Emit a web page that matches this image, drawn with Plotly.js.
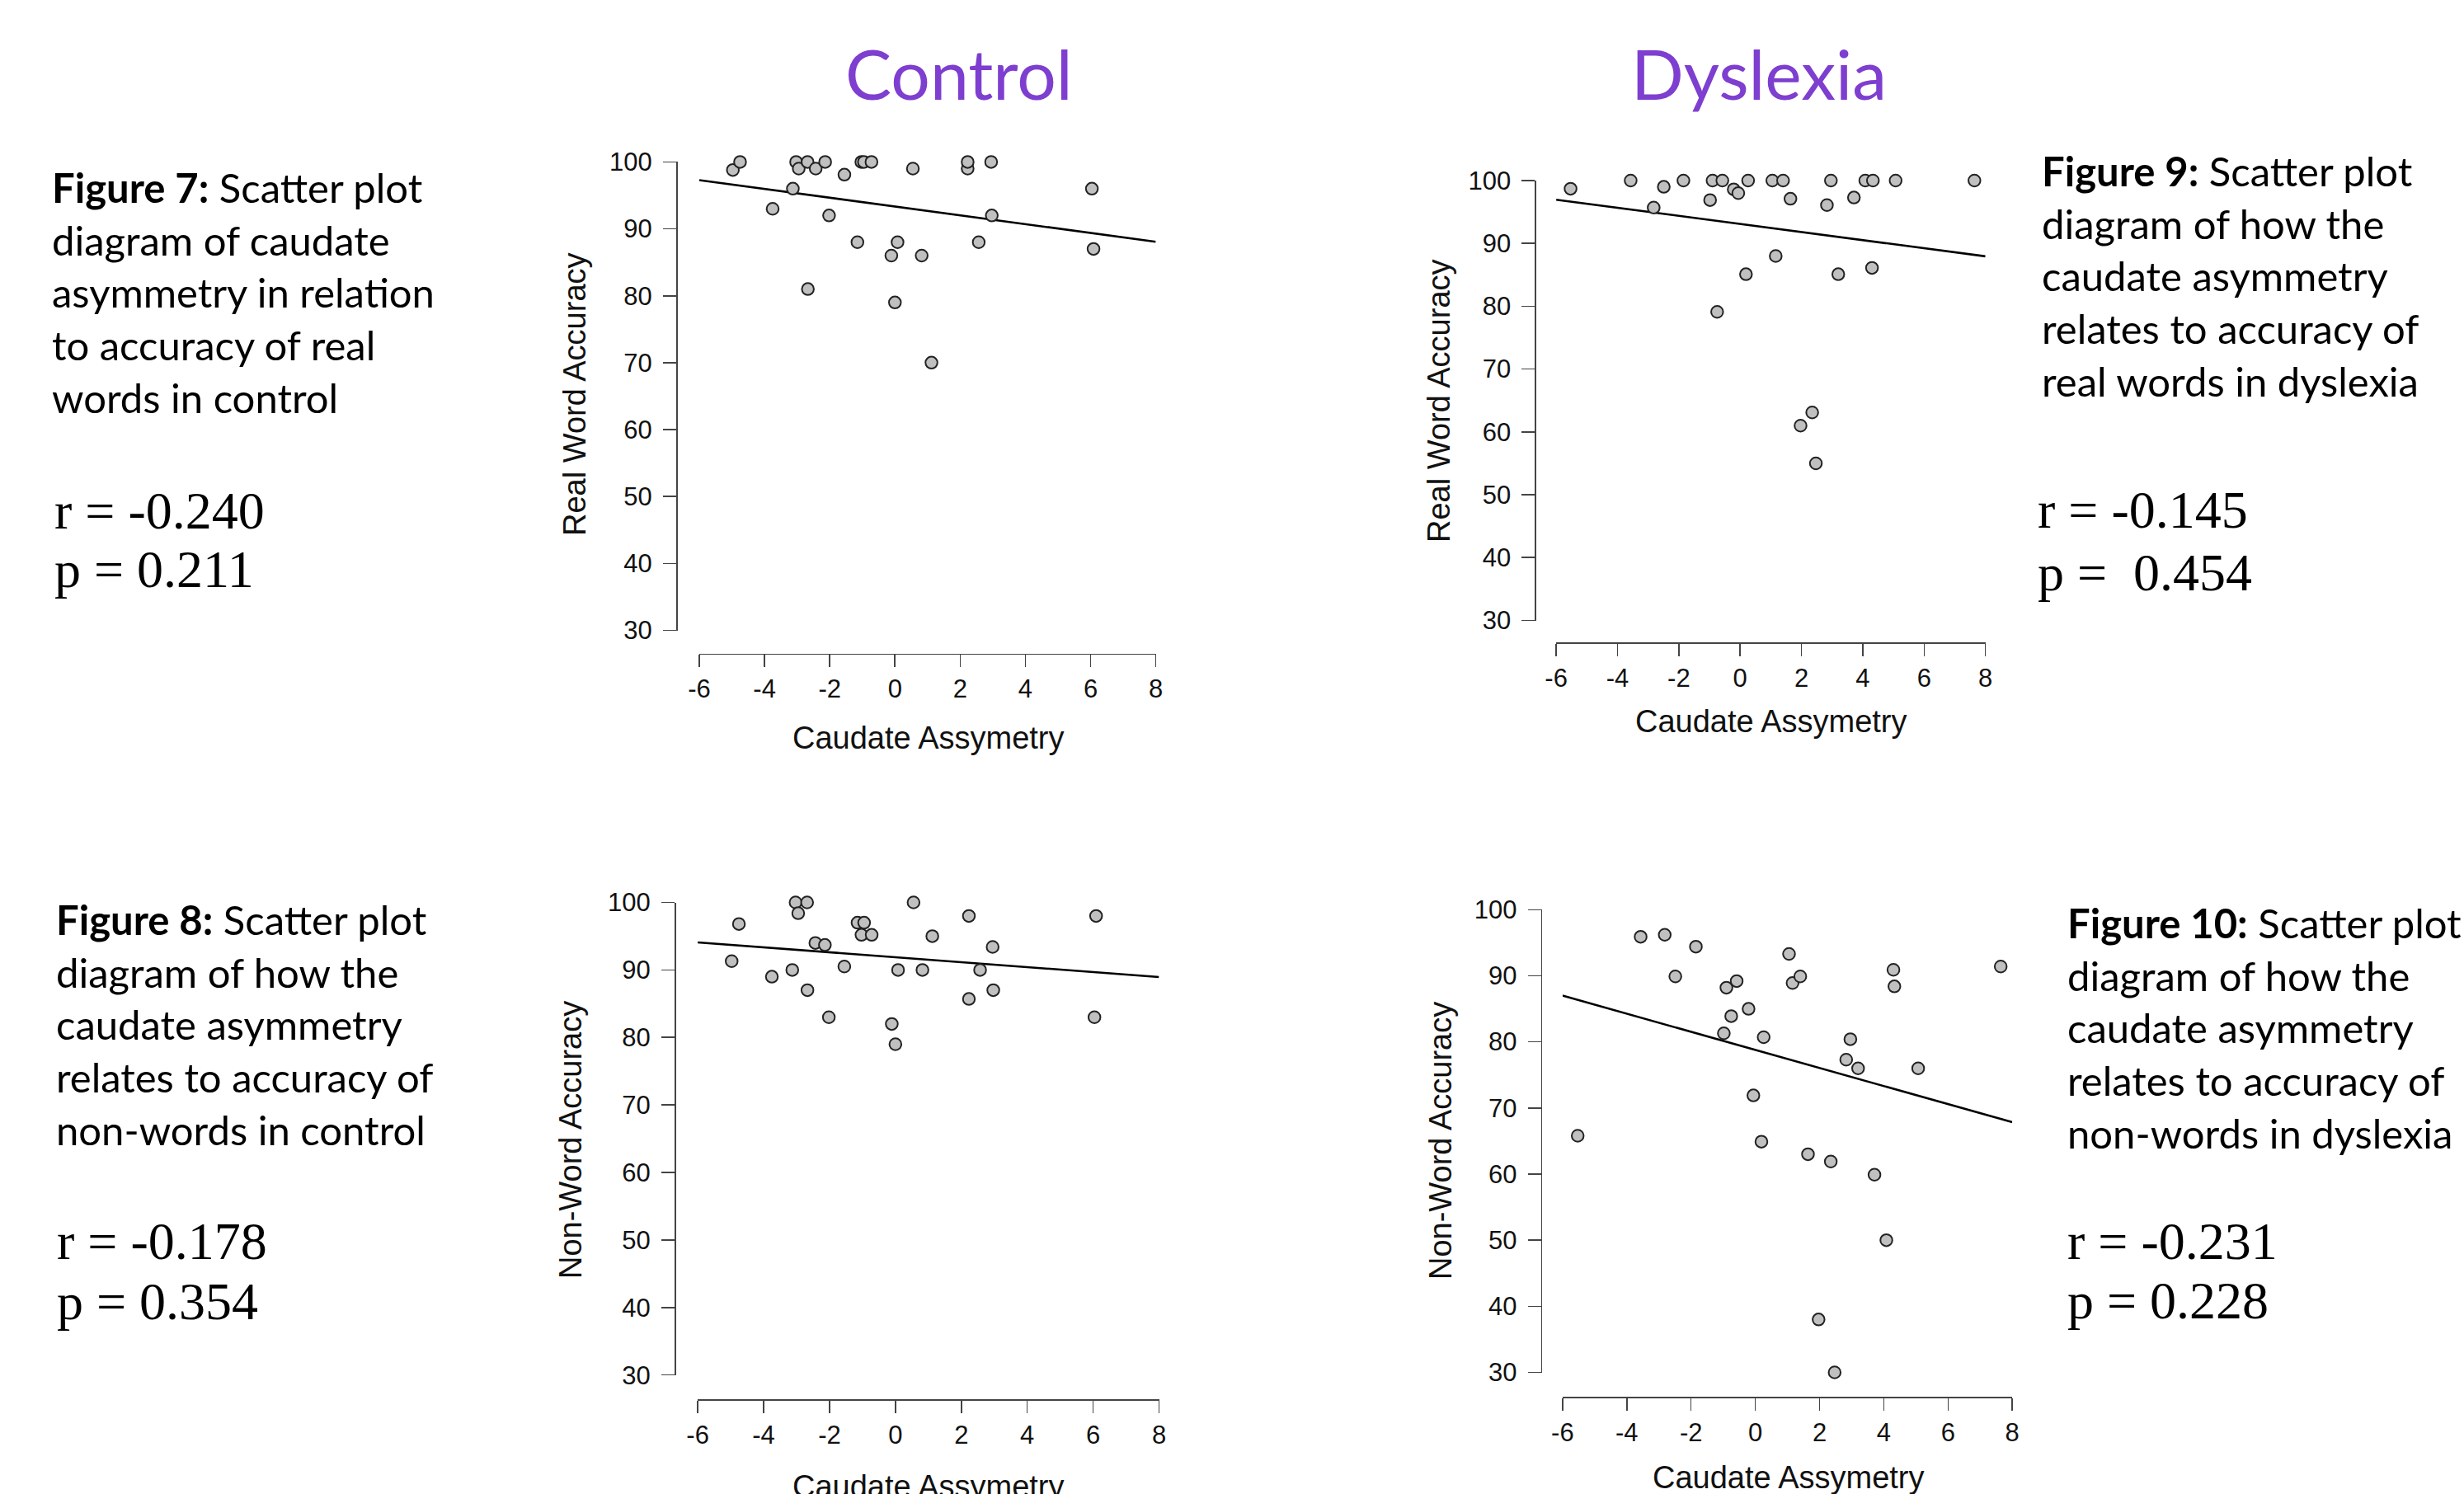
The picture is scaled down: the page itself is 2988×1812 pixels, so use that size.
<!DOCTYPE html>
<html><head><meta charset="utf-8">
<script src="https://cdn.plot.ly/plotly-3.0.1.min.js"></script>
<style>html,body{margin:0;padding:0;background:#fff;} #chart{width:2988px;height:1812px;}</style>
</head><body><div id="chart"></div>
<script>
// ---------- data ----------
const controlAsym    = [-4.97,-4.75,-3.75,-3.13,-3.03,-2.95,-2.68,-2.67,-2.43,-2.14,-2.02,-1.55,-1.15,-1.03,-0.95,-0.72,-0.11,0.00,0.08,0.55,0.82,1.12,2.23,2.23,2.57,2.95,2.97,6.04,6.09];
const controlRealAcc = [98.8,100,93,96,100,99,100,81,99,100,92,98.1,88,100,100,100,86,79,88,99,86,70,99,100,88,100,92,96,87];
const controlNonAcc  = [91.3,96.8,89,90,100,98.4,100,87,94,93.7,83,90.5,97,95.2,97,95.2,82,79,90,100,90,95,98,85.7,90,93.4,87,83,98];

const dyslexiaAsym    = [-5.53,-3.57,-2.82,-2.49,-1.85,-0.98,-0.90,-0.75,-0.58,-0.21,-0.06,0.19,0.26,1.05,1.16,1.40,1.64,1.97,2.35,2.47,2.83,2.96,3.20,3.71,4.08,4.30,4.33,5.07,7.64];
const dyslexiaRealAcc = [98.7,100,95.7,99,100,96.9,100,79.1,100,98.6,98,85.1,100,100,88,100,97.1,61,63.1,55,96.1,100,85.1,97.3,100,86.1,100,100,100];
const dyslexiaNonAcc  = [65.8,95.9,96.2,89.9,94.4,81.3,88.2,83.9,89.2,85,71.9,64.9,80.7,93.3,88.9,89.9,63,38,61.9,30,77.3,80.4,76,59.9,50,90.9,88.4,76,91.4];

const xTickVals   = [-6,-4,-2,0,2,4,6,8];
const xTickLabels = ['-6','-4','-2','0','2','4','6','8'];
const yTickVals   = [30,40,50,60,70,80,90,100];
const yTickLabels = ['30','40','50','60','70','80','90','100'];
const xRange = [-6, 8];
const yRange = [30, 100];

const groupTitles = ['Control', 'Dyslexia'];
const xAxisTitle = 'Caudate Assymetry';
const yAxisTitles = ['Real Word Accuracy', 'Non-Word Accuracy'];

const captions = [
  '<b>Figure 7:</b> Scatter plot<br>diagram of caudate<br>asymmetry in relation<br>to accuracy of real<br>words in control',
  '<b>Figure 9:</b> Scatter plot<br>diagram of how the<br>caudate asymmetry<br>relates to accuracy of<br>real words in dyslexia',
  '<b>Figure 8:</b> Scatter plot<br>diagram of how the<br>caudate asymmetry<br>relates to accuracy of<br>non-words in control',
  '<b>Figure 10:</b> Scatter plot<br>diagram of how the<br>caudate asymmetry<br>relates to accuracy of<br>non-words in dyslexia'
];
const rTexts = ['r = -0.240', 'r = -0.145', 'r = -0.178', 'r = -0.231'];
const pTexts = ['p = 0.211', 'p =  0.454', 'p = 0.354', 'p = 0.228'];

// ---------- layout geometry (pixels) ----------
const W = 2988, H = 1812;
const fx = p => p / W;
const fy = p => 1 - p / H;

const panels = [
  {x: controlAsym,  y: controlRealAcc,  yt: 0, xPix:[848,1401.6],   yPix:[196.4,764.5],  xLineY:792.6, yLineX:820,
   xTitle:[1125,895], yTitle:[697,478]},
  {x: dyslexiaAsym, y: dyslexiaRealAcc, yt: 0, xPix:[1887.1,2407.7], yPix:[219,752.5],   xLineY:779,   yLineX:1861.4,
   xTitle:[2147,875], yTitle:[1745,486]},
  {x: controlAsym,  y: controlNonAcc,   yt: 1, xPix:[846.1,1405.5],  yPix:[1094.5,1667.7],xLineY:1697,  yLineX:818,
   xTitle:[1125,1803], yTitle:[692,1383]},
  {x: dyslexiaAsym, y: dyslexiaNonAcc,  yt: 1, xPix:[1894.9,2440.2], yPix:[1103.3,1664.5],xLineY:1694,  yLineX:1868.7,
   xTitle:[2168,1792], yTitle:[1747,1384]}
];

const captionPos = [
  {x:63,   base:246,  rx:66,   rb:641,  pb:712},
  {x:2476, base:226,  rx:2471, rb:640,  pb:716},
  {x:68,   base:1134, rx:69,   rb:1527, pb:1600},
  {x:2507, base:1138, rx:2507, rb:1527, pb:1599}
];
const titlePos = [[1163, 89], [2133, 89]];

function olsFit(xs, ys) {
  const n = xs.length;
  let mx = 0, my = 0;
  for (let i = 0; i < n; i++) { mx += xs[i]; my += ys[i]; }
  mx /= n; my /= n;
  let sxy = 0, sxx = 0;
  for (let i = 0; i < n; i++) { sxy += (xs[i]-mx)*(ys[i]-my); sxx += (xs[i]-mx)*(xs[i]-mx); }
  const b = sxy / sxx;
  return {a: my - b*mx, b: b};
}

const AX_COLOR = '#444444';
const TICK_FONT = {family: 'Liberation Sans, Arial, sans-serif', size: 31, color: '#111'};
const TITLE_FONT = {family: 'Liberation Sans, Arial, sans-serif', size: 38, color: '#111'};

const traces = [];
const layout = {
  width: W, height: H,
  margin: {l:0, r:0, t:0, b:0},
  paper_bgcolor: '#ffffff',
  plot_bgcolor: 'rgba(0,0,0,0)',
  showlegend: false,
  annotations: []
};

panels.forEach((p, i) => {
  const k = i + 1;
  const xid = k === 1 ? 'x' : 'x' + k;
  const yid = k === 1 ? 'y' : 'y' + k;
  const f = olsFit(p.x, p.y);
  traces.push({
    type: 'scatter', mode: 'lines', x: xRange, y: xRange.map(v => f.a + f.b*v),
    xaxis: xid, yaxis: yid, cliponaxis: false, hoverinfo: 'skip',
    line: {color: '#000', width: 2.6}
  });
  traces.push({
    type: 'scatter', mode: 'markers', x: p.x, y: p.y,
    xaxis: xid, yaxis: yid, cliponaxis: false, hoverinfo: 'skip',
    marker: {size: 14.5, color: '#c0c0c0', line: {color: '#222', width: 2}}
  });
  layout[k === 1 ? 'xaxis' : 'xaxis' + k] = {
    domain: [fx(p.xPix[0]), fx(p.xPix[1])], range: xRange,
    anchor: 'free', position: fy(p.xLineY),
    showline: true, linecolor: AX_COLOR, linewidth: 1.6,
    ticks: 'outside', ticklen: 15, tickwidth: 1.6, tickcolor: AX_COLOR,
    tickvals: xTickVals, ticktext: xTickLabels, tickfont: TICK_FONT,
    ticklabelstandoff: 0,
    showgrid: false, zeroline: false, fixedrange: true
  };
  layout[k === 1 ? 'yaxis' : 'yaxis' + k] = {
    domain: [fy(p.yPix[1]), fy(p.yPix[0])], range: yRange,
    anchor: 'free', position: fx(p.yLineX),
    showline: true, linecolor: AX_COLOR, linewidth: 1.6,
    ticks: 'outside', ticklen: 16, tickwidth: 1.6, tickcolor: AX_COLOR,
    tickvals: yTickVals, ticktext: yTickLabels, tickfont: TICK_FONT,
    ticklabelstandoff: 7,
    showgrid: false, zeroline: false, fixedrange: true
  };
  layout.annotations.push({
    xref: 'paper', yref: 'paper', x: fx(p.xTitle[0]), y: fy(p.xTitle[1]),
    xanchor: 'center', yanchor: 'middle', showarrow: false,
    text: xAxisTitle, font: TITLE_FONT
  });
  layout.annotations.push({
    xref: 'paper', yref: 'paper', x: fx(p.yTitle[0]), y: fy(p.yTitle[1]),
    xanchor: 'center', yanchor: 'middle', showarrow: false, textangle: -90,
    text: yAxisTitles[p.yt], font: TITLE_FONT
  });
});

groupTitles.forEach((t, i) => {
  layout.annotations.push({
    xref: 'paper', yref: 'paper', x: fx(titlePos[i][0]), y: fy(titlePos[i][1]),
    xanchor: 'center', yanchor: 'middle', showarrow: false,
    text: t, font: {family: 'Lato', size: 84, color: '#7e3ecf'}
  });
});

const CAP_SIZE = 49;
captions.forEach((c, i) => {
  const cp = captionPos[i];
  layout.annotations.push({
    xref: 'paper', yref: 'paper', x: fx(cp.x - 2), y: fy(cp.base - 0.987*CAP_SIZE - 2),
    xanchor: 'left', yanchor: 'top', align: 'left', showarrow: false,
    text: c, font: {family: 'Lato', size: CAP_SIZE, color: '#000'}
  });
  layout.annotations.push({
    xref: 'paper', yref: 'paper', x: fx(cp.rx - 2), y: fy(cp.rb - 21.6),
    xanchor: 'left', yanchor: 'middle', align: 'left', showarrow: false,
    text: rTexts[i], font: {family: 'Liberation Serif', size: 64, color: '#000'}
  });
  layout.annotations.push({
    xref: 'paper', yref: 'paper', x: fx(cp.rx - 2), y: fy(cp.pb - 21.6),
    xanchor: 'left', yanchor: 'middle', align: 'left', showarrow: false,
    text: pTexts[i], font: {family: 'Liberation Serif', size: 64, color: '#000'}
  });
});

Plotly.newPlot('chart', traces, layout, {displayModeBar: false, staticPlot: true});
</script>
</body></html>
